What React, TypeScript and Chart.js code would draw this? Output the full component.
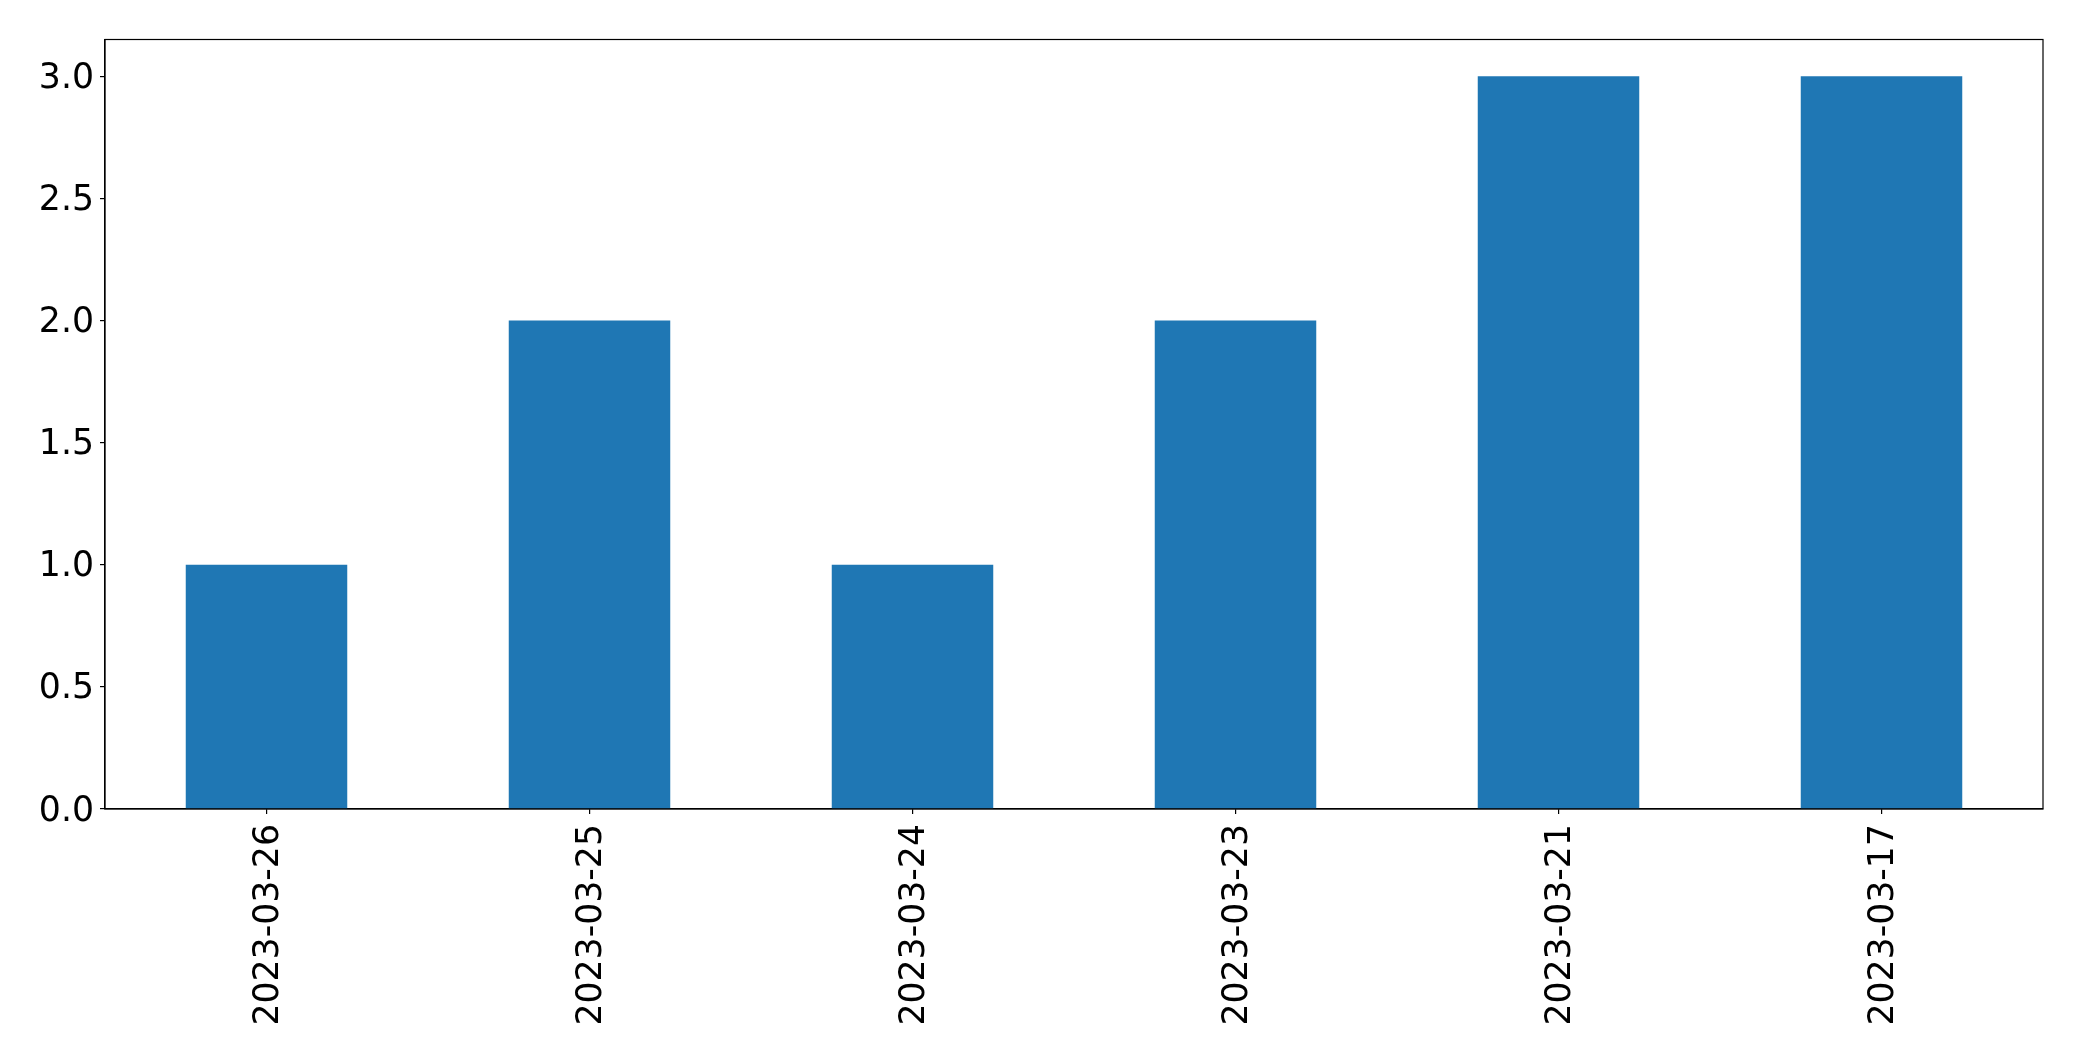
import React, { useEffect, useRef } from "react";
import { Chart, registerables } from "chart.js";

Chart.register(...registerables);

const categories = ["2023-03-26", "2023-03-25", "2023-03-24", "2023-03-23", "2023-03-21", "2023-03-17"];
const counts = [1, 2, 1, 2, 3, 3];
const yTicks = [0, 0.5, 1.0, 1.5, 2.0, 2.5, 3.0];

const W = 2082;
const H = 1061;

const frame = {
  id: "frame",
  afterDatasetsDraw(chart: any) {
    const { ctx, chartArea } = chart;
    ctx.save();
    ctx.strokeStyle = "#000";
    ctx.lineWidth = 1.2;
    ctx.strokeRect(chartArea.left, chartArea.top, chartArea.right - chartArea.left, chartArea.bottom - chartArea.top);
    ctx.restore();
  },
};

export default function App() {
  const ref = useRef<HTMLCanvasElement>(null);
  useEffect(() => {
    document.body.style.margin = "0";
    const font = { family: "DejaVu Sans", size: 34.7 };
    const chart = new Chart(ref.current!, {
      type: "bar",
      data: {
        labels: categories,
        datasets: [
          {
            data: counts,
            backgroundColor: "#1f77b4",
            borderWidth: 0,
            categoryPercentage: 1,
            barPercentage: 0.5,
          },
        ],
      },
      options: {
        animation: false,
        responsive: false,
        devicePixelRatio: 1,
        layout: { padding: { top: 39.5, right: 39, left: 0, bottom: 0 } },
        plugins: { legend: { display: false }, tooltip: { enabled: false } },
        scales: {
          x: {
            offset: true,
            grid: { display: true, offset: false, drawOnChartArea: false, drawTicks: true, tickLength: 5, color: "#000", lineWidth: 1.2 },
            border: { display: true, color: "#000", width: 1.2 },
            ticks: { color: "#000", font, minRotation: 90, maxRotation: 90, padding: 10, labelOffset: 2, autoSkip: false },
            afterFit(scale: any) {
              scale.height = H - 809;
            },
          },
          y: {
            min: 0,
            max: 3.15,
            grid: { display: true, drawOnChartArea: false, drawTicks: true, tickLength: 5, color: "#000", lineWidth: 1.2 },
            border: { display: true, color: "#000", width: 1.2 },
            ticks: {
              color: "#000",
              font,
              padding: 6,
              labelOffset: 2.5,
              callback: (v: any) => Number(v).toFixed(1),
            },
            afterBuildTicks(scale: any) {
              scale.ticks = yTicks.map((v) => ({ value: v }));
            },
            afterFit(scale: any) {
              scale.width = 105;
            },
          },
        },
      },
      plugins: [frame],
    });
    return () => chart.destroy();
  }, []);
  return (
    <div style={{ width: W, height: H, background: "#fff" }}>
      <canvas ref={ref} width={W} height={H} style={{ display: "block" }} />
    </div>
  );
}
